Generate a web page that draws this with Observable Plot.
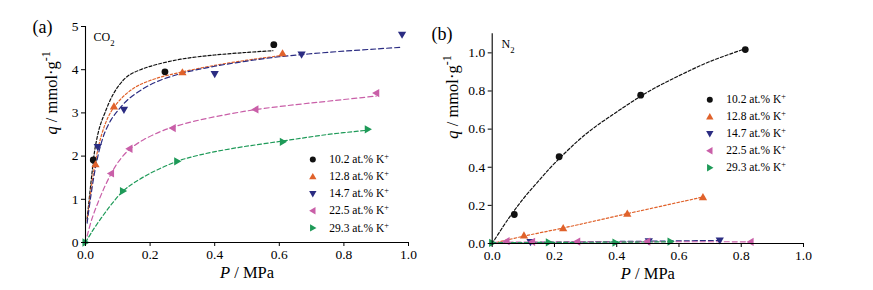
<!DOCTYPE html>
<html><head><meta charset="utf-8">
<script src="https://cdn.jsdelivr.net/npm/d3@7"></script>
<script src="https://cdn.jsdelivr.net/npm/@observablehq/plot@0.6"></script>
<style>
body{margin:0;background:#fff;}
#wrap{display:flex;width:873px;height:290px;overflow:hidden;}
#wrap svg{display:block;}
#wrap svg text{font-family:"Liberation Serif","Times New Roman",Times,serif;}
</style></head><body><div id="wrap"></div>
<script>
// ---------- data ----------
const seriesNames = ["10.2 at.% K^{+}", "12.8 at.% K^{+}", "14.7 at.% K^{+}", "22.5 at.% K^{+}", "29.3 at.% K^{+}"];
const xTicks = [0, 0.2, 0.4, 0.6, 0.8, 1.0];
const co2YTicks = [0, 1, 2, 3, 4, 5];
const n2YTicks = [0, 0.2, 0.4, 0.6, 0.8, 1.0];

// CO2 measured points (P / MPa, q / mmol g-1), one array per series
const co2PointP = [
  [0.024, 0.246, 0.583],
  [0.031, 0.088, 0.30, 0.61],
  [0.038, 0.119, 0.40, 0.669, 0.98],
  [0.079, 0.136, 0.27, 0.526, 0.90],
  [0, 0.116, 0.284, 0.611, 0.874]
];
const co2PointQ = [
  [1.91, 3.95, 4.58],
  [1.81, 3.15, 3.94, 4.38],
  [2.21, 3.07, 3.90, 4.35, 4.81],
  [1.60, 2.17, 2.65, 3.08, 3.46],
  [0, 1.19, 1.88, 2.33, 2.62]
];
// CO2 fitted curves
const co2CurveP = [
  [0.005, 0.01, 0.02, 0.03, 0.045, 0.06, 0.08, 0.1, 0.13, 0.17, 0.22, 0.3, 0.4, 0.5, 0.58],
  [0.005, 0.015, 0.03, 0.05, 0.07, 0.09, 0.12, 0.16, 0.22, 0.3, 0.4, 0.5, 0.61],
  [0.005, 0.015, 0.03, 0.045, 0.06, 0.08, 0.1, 0.13, 0.17, 0.22, 0.3, 0.4, 0.5, 0.6, 0.7, 0.8, 0.9, 0.98],
  [0.005, 0.02, 0.04, 0.06, 0.08, 0.1, 0.135, 0.18, 0.23, 0.27, 0.35, 0.45, 0.53, 0.65, 0.75, 0.9],
  [0, 0.02, 0.05, 0.08, 0.116, 0.15, 0.2, 0.284, 0.35, 0.45, 0.611, 0.75, 0.874]
];
const co2CurveQ = [
  [0.55, 0.9, 1.6, 2.2, 2.7, 3.0, 3.35, 3.6, 3.85, 4.0, 4.12, 4.25, 4.34, 4.4, 4.44],
  [0.5, 1.1, 1.85, 2.5, 2.9, 3.15, 3.4, 3.62, 3.8, 3.95, 4.1, 4.22, 4.33],
  [0.45, 1.0, 1.7, 2.2, 2.55, 2.85, 3.05, 3.3, 3.52, 3.72, 3.92, 4.08, 4.2, 4.3, 4.37, 4.43, 4.48, 4.52],
  [0.15, 0.55, 0.95, 1.3, 1.6, 1.85, 2.15, 2.38, 2.56, 2.67, 2.83, 2.98, 3.08, 3.19, 3.27, 3.39],
  [0, 0.25, 0.58, 0.88, 1.19, 1.38, 1.6, 1.88, 2.02, 2.17, 2.35, 2.5, 2.6]
];

// N2 measured points
const n2PointP = [
  [0.071, 0.215, 0.477, 0.813],
  [0.102, 0.228, 0.434, 0.677],
  [0.123, 0.503, 0.731],
  [0.046, 0.128, 0.273, 0.498, 0.83],
  [0, 0.182, 0.396, 0.573]
];
const n2PointQ = [
  [0.152, 0.455, 0.778, 1.017],
  [0.042, 0.080, 0.156, 0.243],
  [0.007, 0.012, 0.016],
  [0.012, 0.009, 0.010, 0.010, 0.008],
  [0.003, 0.006, 0.005, 0.010]
];
// N2 fitted curves
const n2CurveP = [
  [0, 0.05, 0.1, 0.15, 0.2, 0.3, 0.4, 0.5, 0.6, 0.7, 0.81],
  [0, 0.1, 0.23, 0.43, 0.68],
  [0, 0.15, 0.3, 0.5, 0.73],
  [0, 0.2, 0.45, 0.83],
  [0, 0.2, 0.4, 0.57]
];
const n2CurveQ = [
  [0, 0.125, 0.235, 0.33, 0.42, 0.573, 0.69, 0.795, 0.88, 0.955, 1.02],
  [0, 0.038, 0.082, 0.155, 0.245],
  [0.002, 0.006, 0.009, 0.012, 0.016],
  [0.006, 0.008, 0.009, 0.009],
  [0.004, 0.006, 0.007, 0.009]
];

// ---------- styles ----------
const FONT = '"Liberation Serif","Times New Roman",Times,serif';
const colors = ["#111111", "#E0622B", "#2B2C82", "#C95FA8", "#1E9A58"];
const dashes = ["3,2", "2.5,2", "5,3", "5,3", "4,2.5"];
function tri(points) {
  return {draw(ctx, size) {
    const r = Math.sqrt(size / Math.PI);
    points.forEach(([a, b], i) => i ? ctx.lineTo(a * r, b * r) : ctx.moveTo(a * r, b * r));
    ctx.closePath();
  }};
}
const symbols = [
  "circle",
  tri([[0, -1.15], [1.15, 0.85], [-1.15, 0.85]]),
  tri([[-1.15, -0.85], [1.15, -0.85], [0, 1.15]]),
  tri([[-1.15, 0], [0.85, -1.15], [0.85, 1.15]]),
  tri([[1.15, 0], [-0.85, -1.15], [-0.85, 1.15]])
];

function rows(P, Q) { return P.map((p, i) => ({P: p, q: Q[i]})); }

function panel(cfg) {
  const marks = [];
  cfg.curveP.forEach((P, s) => {
    marks.push(Plot.line(rows(P, cfg.curveQ[s]), {x: "P", y: "q", stroke: colors[s], strokeWidth: 1.2, strokeDasharray: dashes[s], curve: "catmull-rom"}));
  });
  cfg.pointP.forEach((P, s) => {
    marks.push(Plot.dot(rows(P, cfg.pointQ[s]), {x: "P", y: "q", symbol: symbols[s], r: s === 0 ? 3.4 : 3.6, fill: colors[s], stroke: "none"}));
  });
  // axes
  marks.push(Plot.ruleX([0], {stroke: "#000", strokeWidth: 1.1}));
  marks.push(Plot.ruleY([0], {stroke: "#000", strokeWidth: 1.1}));
  marks.push(Plot.axisX({ticks: xTicks, tickFormat: d3.format(".1f"), tickSize: 4, tickPadding: 3, fontSize: 13.5, fontFamily: FONT, label: null, stroke: "#000", color: "#000"}));
  marks.push(Plot.axisY({ticks: cfg.yTicks, tickFormat: d3.format(cfg.yFormat), tickSize: 4, tickPadding: 3, fontSize: 13.5, fontFamily: FONT, label: null, stroke: "#000", color: "#000"}));
  // legend
  seriesNames.forEach((name, s) => {
    marks.push(Plot.dot([name], {frameAnchor: "top-left", dx: cfg.legDx, dy: cfg.legDy + s * cfg.legStep, symbol: symbols[s], r: s === 0 ? 3 : 3.2, fill: colors[s], stroke: "none"}));
    marks.push(Plot.text([name], {frameAnchor: "top-left", dx: cfg.legDx + 16.5, dy: cfg.legDy + s * cfg.legStep, textAnchor: "start", lineAnchor: "middle", fontSize: 11.5, fontFamily: FONT, fill: "#000", className: "mk"}));
  });
  // labels
  marks.push(Plot.text([cfg.gas], {frameAnchor: "top-left", dx: cfg.gasDx, dy: cfg.gasDy, textAnchor: "start", lineAnchor: "middle", fontSize: 12, fontFamily: FONT, className: "mk"}));
  marks.push(Plot.text([cfg.tag], {frameAnchor: "top-left", dx: cfg.tagDx, dy: cfg.tagDy, textAnchor: "start", lineAnchor: "middle", fontSize: 18, fontFamily: FONT}));
  marks.push(Plot.text(["*P* / MPa"], {frameAnchor: "bottom", dy: 30, lineAnchor: "middle", fontSize: 16.5, fontFamily: FONT, className: "mk"}));
  marks.push(Plot.text(["*q* / mmol·g^{-1}"], {frameAnchor: "left", dx: cfg.yLabDx, rotate: -90, lineAnchor: "middle", fontSize: 16.5, fontFamily: FONT, className: "mk"}));

  return Plot.plot({
    width: cfg.width, height: 290,
    marginLeft: cfg.ml, marginRight: cfg.mr, marginTop: cfg.mt, marginBottom: cfg.mb,
    x: {domain: [0, 1]},
    y: {domain: cfg.yDomain},
    style: {fontFamily: FONT, background: "#fff", overflow: "visible"},
    marks
  });
}

const a = panel({
  width: 430, ml: 85, mr: 22, mt: 26, mb: 48, yDomain: [0, 5], yTicks: co2YTicks, yFormat: "d",
  curveP: co2CurveP, curveQ: co2CurveQ, pointP: co2PointP, pointQ: co2PointQ,
  legDx: 227.3, legDy: 133, legStep: 17.1,
  gas: "CO_{2}", gasDx: 8, gasDy: 10.5, tag: "(a)", tagDx: -53, tagDy: 1, yLabDx: -34
});
const b = panel({
  width: 443, ml: 61.7, mr: 70, mt: 33.3, mb: 47, yDomain: [0, 1.1], yTicks: n2YTicks, yFormat: ".1f",
  curveP: n2CurveP, curveQ: n2CurveQ, pointP: n2PointP, pointQ: n2PointQ,
  legDx: 217.6, legDy: 66, legStep: 17,
  gas: "N_{2}", gasDx: 9.3, gasDy: 10, tag: "(b)", tagDx: -60.7, tagDy: 0, yLabDx: -39
});
const wrap = document.getElementById("wrap");
wrap.append(a, b);

// rich text: *italic*, ^{super}, _{sub}
function richify(svg) {
  d3.select(svg).selectAll("g.mk text").each(function () {
    const el = this;
    const s = el.textContent;
    if (!/[\*\^_]/.test(s)) return;
    const parts = s.split(/(\*[^*]+\*|\^\{[^}]*\}|_\{[^}]*\})/).filter(t => t !== "");
    el.textContent = "";
    const sel = d3.select(el);
    parts.forEach(p => {
      if (p.startsWith("*")) sel.append("tspan").attr("font-style", "italic").text(p.slice(1, -1));
      else if (p.startsWith("^{")) sel.append("tspan").attr("baseline-shift", "super").attr("font-size", "72%").text(p.slice(2, -1));
      else if (p.startsWith("_{")) sel.append("tspan").attr("baseline-shift", "sub").attr("font-size", "72%").text(p.slice(2, -1));
      else sel.append("tspan").text(p);
    });
  });
}
richify(a); richify(b);
</script></body></html>
